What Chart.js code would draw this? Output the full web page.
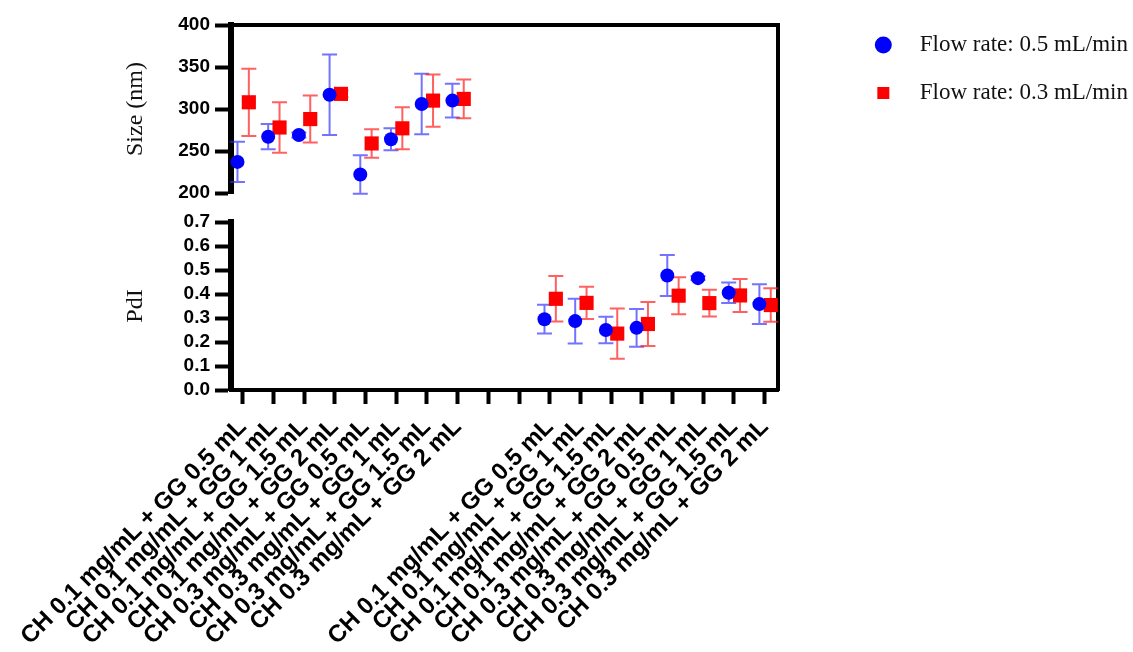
<!DOCTYPE html>
<html>
<head>
<meta charset="utf-8">
<script src="https://cdn.jsdelivr.net/npm/chart.js@4.4.1/dist/chart.umd.min.js"></script>
<style>
html,body{margin:0;padding:0;background:#fff;}
#wrap{width:1133px;height:652px;position:relative;}
</style>
</head>
<body>
<div id="wrap"><canvas id="c"></canvas></div>
<script>
// ---------- data ----------
const groupLabels = [
  'CH 0.1 mg/mL + GG 0.5 mL',
  'CH 0.1 mg/mL + GG 1 mL',
  'CH 0.1 mg/mL + GG 1.5 mL',
  'CH 0.1 mg/mL + GG 2 mL',
  'CH 0.3 mg/mL + GG 0.5 mL',
  'CH 0.3 mg/mL + GG 1 mL',
  'CH 0.3 mg/mL + GG 1.5 mL',
  'CH 0.3 mg/mL + GG 2 mL'
];
const xTickLabels = [...groupLabels, '', '', ...groupLabels];
const sizePositions = [0, 1, 2, 3, 4, 5, 6, 7];
const pdiPositions = [10, 11, 12, 13, 14, 15, 16, 17];

const seriesNames = ['Flow rate: 0.5 mL/min', 'Flow rate: 0.3 mL/min'];

const sizeFlow05 = [237, 267, 269, 317, 222, 264, 306, 310];
const sizeFlow05Err = [24, 15, 3, 48, 23, 13, 36, 20];
const sizeFlow03 = [308, 278, 288, 318, 259, 277, 310, 312];
const sizeFlow03Err = [40, 30, 28, 4, 17, 25, 31, 23];

const pdiFlow05 = [0.295, 0.287, 0.250, 0.259, 0.477, 0.466, 0.405, 0.358];
const pdiFlow05Err = [0.060, 0.093, 0.055, 0.079, 0.085, 0.008, 0.043, 0.083];
const pdiFlow03 = [0.380, 0.363, 0.235, 0.275, 0.393, 0.362, 0.394, 0.354];
const pdiFlow03Err = [0.095, 0.067, 0.105, 0.092, 0.077, 0.056, 0.069, 0.070];

const sizeTicks = [200, 250, 300, 350, 400];
const pdiTicks = [0, 0.1, 0.2, 0.3, 0.4, 0.5, 0.6, 0.7];

// ---------- style ----------
const BLUE = '#0000ff', RED = '#ff0000';
const BLUE_ERR = 'rgba(40,40,255,0.65)', RED_ERR = 'rgba(255,30,30,0.7)';
const OFF_BLUE = -0.17, OFF_RED = 0.2;
const PLOT_RIGHT = 778, PAD_RIGHT = 0;

function pts(pos, vals, off) {
  return vals.map((v, i) => ({ x: pos[i] + off, y: v }));
}

const errorBarPlugin = {
  id: 'errorBars',
  beforeDatasetsDraw(chart) {
    const ctx = chart.ctx;
    const cap = 7.5;
    chart.data.datasets.forEach((ds, di) => {
      if (!ds.errors) return;
      const meta = chart.getDatasetMeta(di);
      const ys = chart.scales[ds.yAxisID];
      ctx.save();
      ctx.strokeStyle = ds.errorColor;
      ctx.lineWidth = 2;
      meta.data.forEach((el, i) => {
        const v = ds.data[i].y, e = ds.errors[i];
        const yT = ys.getPixelForValue(v + e), yB = ys.getPixelForValue(v - e);
        const x = el.x;
        ctx.beginPath();
        ctx.moveTo(x, yT); ctx.lineTo(x, yB);
        ctx.moveTo(x - cap, yT); ctx.lineTo(x + cap, yT);
        ctx.moveTo(x - cap, yB); ctx.lineTo(x + cap, yB);
        ctx.stroke();
      });
      ctx.restore();
    });
  }
};

// let the right-hand legend take the width its labels need
const legendWidthPlugin = {
  id: 'legendWidth',
  beforeLayout(chart) {
    const lg = chart.legend;
    if (lg && !lg.__wide) {
      const orig = lg.fit;
      lg.fit = function () {
        orig.call(this);
        if (this.columnSizes && this.columnSizes.length) {
          this.width = this.columnSizes.reduce((a, c) => a + c.width, 0) + this.options.labels.padding + 5;
        }
      };
      lg.__wide = true;
    }
  }
};

Chart.defaults.font.family = "'Liberation Sans', Arial, sans-serif";
Chart.defaults.color = '#000';

const tickFont = { family: "'Liberation Sans', Arial, sans-serif", size: 19, weight: 'bold' };
const serif = "'Liberation Serif', 'DejaVu Serif', serif";

function leftAxisFit(s) { s.width = 231; }

const baseDs = { showLine: false, pointBorderWidth: 0, clip: false };

new Chart(document.getElementById('c'), {
  type: 'scatter',
  data: {
    datasets: [
      { ...baseDs, label: seriesNames[0], data: pts(sizePositions, sizeFlow05, OFF_BLUE), errors: sizeFlow05Err,
        yAxisID: 'ySize', backgroundColor: BLUE, borderColor: BLUE, pointStyle: 'circle', pointRadius: 7, pointHoverRadius: 7, errorColor: BLUE_ERR },
      { ...baseDs, label: seriesNames[1], data: pts(sizePositions, sizeFlow03, OFF_RED), errors: sizeFlow03Err,
        yAxisID: 'ySize', backgroundColor: RED, borderColor: RED, pointStyle: 'rect', pointRadius: 10, pointHoverRadius: 10, errorColor: RED_ERR },
      { ...baseDs, label: seriesNames[0], data: pts(pdiPositions, pdiFlow05, OFF_BLUE), errors: pdiFlow05Err,
        yAxisID: 'yPdI', backgroundColor: BLUE, borderColor: BLUE, pointStyle: 'circle', pointRadius: 7, pointHoverRadius: 7, errorColor: BLUE_ERR },
      { ...baseDs, label: seriesNames[1], data: pts(pdiPositions, pdiFlow03, OFF_RED), errors: pdiFlow03Err,
        yAxisID: 'yPdI', backgroundColor: RED, borderColor: RED, pointStyle: 'rect', pointRadius: 10, pointHoverRadius: 10, errorColor: RED_ERR }
    ]
  },
  options: {
    responsive: true,
    maintainAspectRatio: false,
    animation: false,
    events: [],
    layout: { padding: { top: 8.5, right: PAD_RIGHT, bottom: 0, left: 0 } },
    plugins: {
      tooltip: { enabled: false },
      legend: {
        position: 'right',
        align: 'start',
        labels: {
          usePointStyle: true,
          boxHeight: 12,
          padding: 25,
          color: '#111',
          font: { family: serif, size: 23 },
          filter: (item) => item.datasetIndex < 2,
          generateLabels: (chart) => {
            const items = Chart.defaults.plugins.legend.labels.generateLabels(chart);
            items.forEach(it => { it.text = '\u2002\u200A' + it.text; });
            return items;
          }
        }
      }
    },
    scales: {
      x: {
        type: 'linear',
        position: 'bottom',
        min: -0.381,
        max: 17.436,
        afterBuildTicks: (s) => { s.ticks = xTickLabels.map((_, i) => ({ value: i })); },
        afterFit: (s) => { s.height = 262; },
        ticks: {
          autoSkip: false,
          minRotation: 45,
          maxRotation: 45,
          padding: 9,
          color: '#000',
          font: { family: "'Liberation Sans', Arial, sans-serif", size: 24, weight: 'bold' },
          callback: (v, i) => xTickLabels[i]
        },
        grid: { display: true, drawOnChartArea: false, drawTicks: true, tickLength: 14, tickWidth: 4, tickColor: '#000' },
        border: { display: true, width: 4, color: '#000' }
      },
      xTop: {
        type: 'linear',
        position: 'top',
        afterFit: (s) => { s.height = 16.5; },
        ticks: { display: false },
        grid: { display: false },
        border: { display: true, width: 4, color: '#000' }
      },
      yRight: {
        type: 'linear',
        position: 'right',
        afterFit: (s) => {
          const lw = s.chart.legend ? s.chart.legend.width : 290;
          s.width = Math.max(0, s.chart.width - PAD_RIGHT - lw - PLOT_RIGHT);
        },
        ticks: { display: false },
        grid: { display: false },
        border: { display: true, width: 4, color: '#000' }
      },
      yPdI: {
        type: 'linear',
        position: 'left',
        stack: 'split',
        stackWeight: 168,
        min: 0,
        max: 0.7,
        afterFit: leftAxisFit,
        afterBuildTicks: (s) => { s.ticks = pdiTicks.map(v => ({ value: v })); },
        ticks: { autoSkip: false, padding: 5, color: '#000', font: tickFont, callback: (v) => Number(v).toFixed(1) },
        grid: { display: true, drawOnChartArea: false, drawTicks: true, tickLength: 16, tickWidth: 4, tickColor: '#000' },
        border: { display: true, width: 6, color: '#000' },
        title: { display: true, text: 'PdI', color: '#111', font: { family: serif, size: 24 }, padding: { top: 121, bottom: 0 } }
      },
      yGap: {
        type: 'linear',
        position: 'left',
        stack: 'split',
        stackWeight: 29,
        display: false
      },
      ySize: {
        type: 'linear',
        position: 'left',
        stack: 'split',
        stackWeight: 168,
        min: 200,
        max: 400,
        afterFit: leftAxisFit,
        afterBuildTicks: (s) => { s.ticks = sizeTicks.map(v => ({ value: v })); },
        ticks: { autoSkip: false, padding: 5, color: '#000', font: tickFont },
        grid: { display: true, drawOnChartArea: false, drawTicks: true, tickLength: 16, tickWidth: 4, tickColor: '#000' },
        border: { display: true, width: 6, color: '#000' },
        title: { display: true, text: 'Size (nm)', color: '#111', font: { family: serif, size: 24 }, padding: { top: 121, bottom: 0 } }
      }
    }
  },
  plugins: [errorBarPlugin, legendWidthPlugin]
});
</script>
</body>
</html>
